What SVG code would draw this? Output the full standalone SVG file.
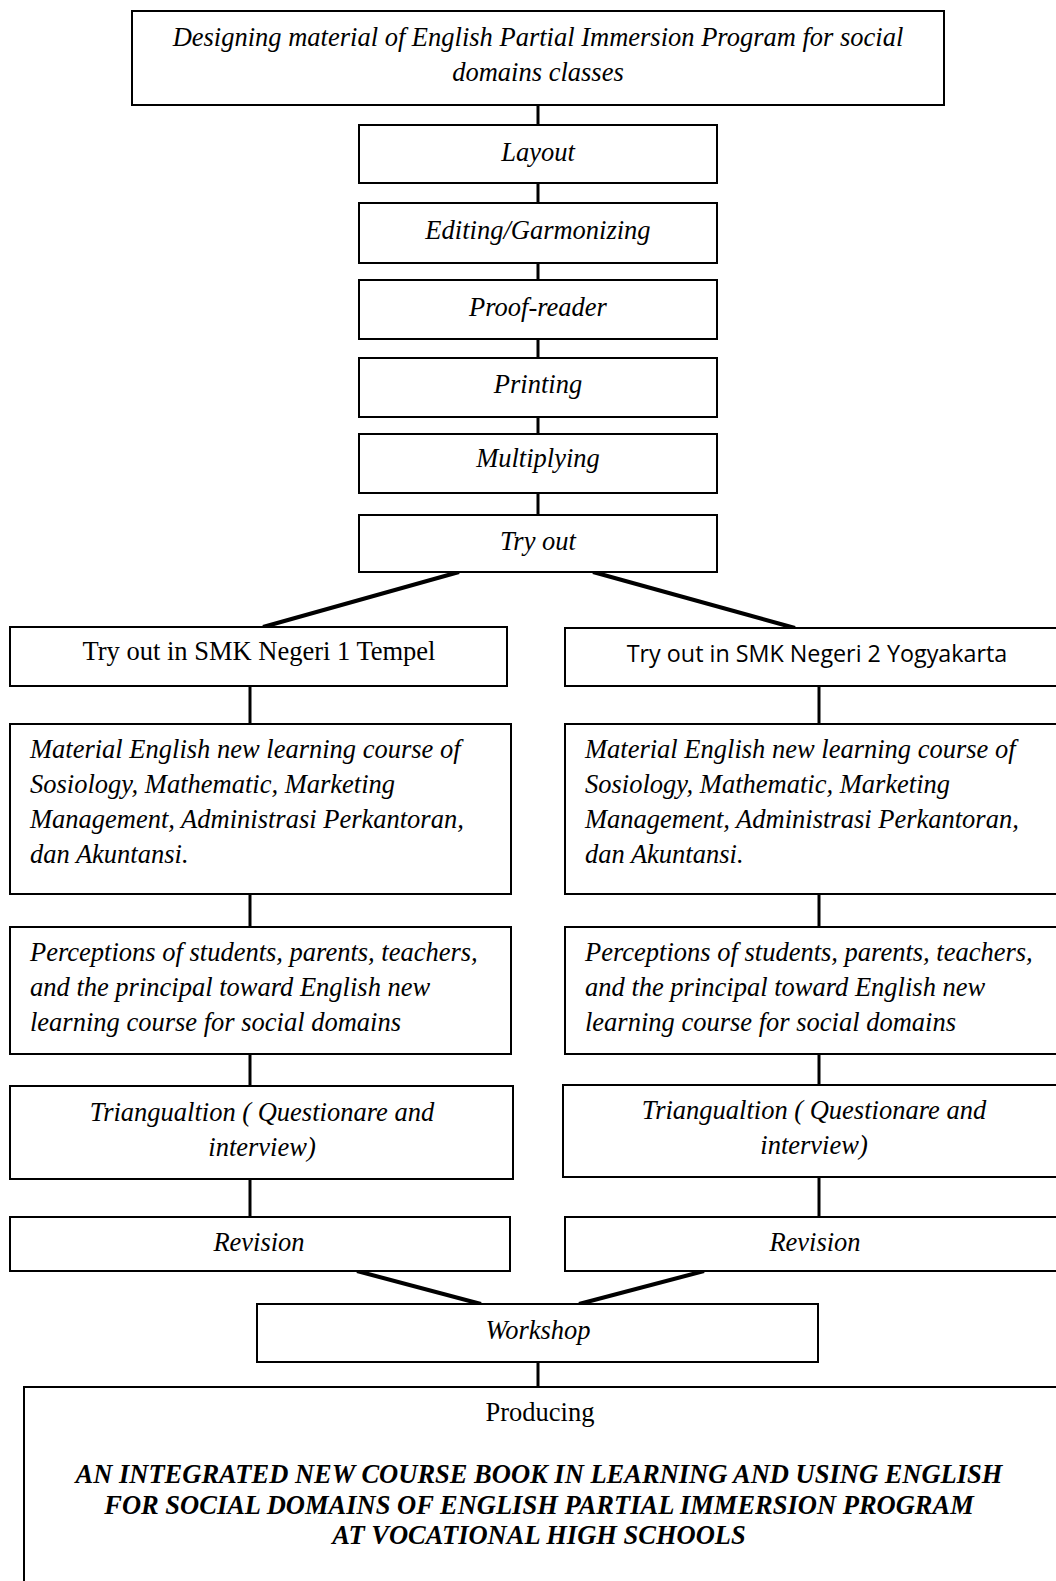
<svg xmlns="http://www.w3.org/2000/svg" width="1056" height="1581" viewBox="0 0 1056 1581">
<style>
.box{fill:#fff;stroke:#000;stroke-width:2}
.t{font-family:"Liberation Serif","Times New Roman",serif;font-size:26.5px;fill:#000}
.i{font-style:italic}
.c{text-anchor:middle}
.s{font-family:"Open Sans","Liberation Sans",sans-serif;font-size:23.3px;fill:#000}
.b{font-weight:bold;font-style:italic}
.v{stroke:#000;stroke-width:3;fill:none}
.d{stroke:#000;stroke-width:4;fill:none}
</style>
<rect width="1056" height="1581" fill="#fff"/>
<g id="connectors">
<line class="v" x1="538" y1="105" x2="538" y2="125"/>
<line class="v" x1="538" y1="183" x2="538" y2="203"/>
<line class="v" x1="538" y1="263" x2="538" y2="280"/>
<line class="v" x1="538" y1="339" x2="538" y2="358"/>
<line class="v" x1="538" y1="417" x2="538" y2="434"/>
<line class="v" x1="538" y1="493" x2="538" y2="515"/>
<line class="d" x1="459" y1="572" x2="263" y2="627"/>
<line class="d" x1="593" y1="572" x2="795" y2="628"/>
<line class="v" x1="250" y1="686" x2="250" y2="724"/>
<line class="v" x1="250" y1="894" x2="250" y2="927"/>
<line class="v" x1="250" y1="1054" x2="250" y2="1086"/>
<line class="v" x1="250" y1="1179" x2="250" y2="1217"/>
<line class="v" x1="819" y1="686" x2="819" y2="724"/>
<line class="v" x1="819" y1="894" x2="819" y2="927"/>
<line class="v" x1="819" y1="1054" x2="819" y2="1085"/>
<line class="v" x1="819" y1="1177" x2="819" y2="1217"/>
<line class="d" x1="357" y1="1271" x2="481" y2="1304"/>
<line class="d" x1="704" y1="1271" x2="579" y2="1304"/>
<line class="v" x1="538" y1="1362" x2="538" y2="1387"/>
</g>
<g id="n-design">
<rect class="box" x="132" y="11" width="812" height="94"/>
<text class="t i c" x="538" y="46">Designing material of English Partial Immersion Program for social</text>
<text class="t i c" x="538" y="81">domains classes</text>
</g>
<g id="n-layout">
<rect class="box" x="359" y="125" width="358" height="58"/>
<text class="t i c" x="538" y="161">Layout</text>
</g>
<g id="n-editing">
<rect class="box" x="359" y="203" width="358" height="60"/>
<text class="t i c" x="538" y="239">Editing/Garmonizing</text>
</g>
<g id="n-proof">
<rect class="box" x="359" y="280" width="358" height="59"/>
<text class="t i c" x="538" y="316">Proof-reader</text>
</g>
<g id="n-printing">
<rect class="box" x="359" y="358" width="358" height="59"/>
<text class="t i c" x="538" y="393">Printing</text>
</g>
<g id="n-multiplying">
<rect class="box" x="359" y="434" width="358" height="59"/>
<text class="t i c" x="538" y="467">Multiplying</text>
</g>
<g id="n-tryout">
<rect class="box" x="359" y="515" width="358" height="57"/>
<text class="t i c" x="538" y="550">Try out</text>
</g>
<g id="n-tempel">
<rect class="box" x="10" y="627" width="497" height="59"/>
<text class="t c" x="259" y="660">Try out in SMK Negeri 1 Tempel</text>
</g>
<g id="n-yogya">
<rect class="box" x="565" y="628" width="500" height="58"/>
<text class="s c" x="817" y="662">Try out in SMK Negeri 2 Yogyakarta</text>
</g>
<g id="n-material-left">
<rect class="box" x="10" y="724" width="501" height="170"/>
<text class="t i" x="30" y="758">Material English new learning course of</text>
<text class="t i" x="30" y="793">Sosiology, Mathematic, Marketing</text>
<text class="t i" x="30" y="828">Management, Administrasi Perkantoran,</text>
<text class="t i" x="30" y="863">dan Akuntansi.</text>
</g>
<g id="n-material-right">
<rect class="box" x="565" y="724" width="500" height="170"/>
<text class="t i" x="585" y="758">Material English new learning course of</text>
<text class="t i" x="585" y="793">Sosiology, Mathematic, Marketing</text>
<text class="t i" x="585" y="828">Management, Administrasi Perkantoran,</text>
<text class="t i" x="585" y="863">dan Akuntansi.</text>
</g>
<g id="n-perception-left">
<rect class="box" x="10" y="927" width="501" height="127"/>
<text class="t i" x="30" y="961">Perceptions of students, parents, teachers,</text>
<text class="t i" x="30" y="996">and the principal toward English new</text>
<text class="t i" x="30" y="1031">learning course for social domains</text>
</g>
<g id="n-perception-right">
<rect class="box" x="565" y="927" width="500" height="127"/>
<text class="t i" x="585" y="961">Perceptions of students, parents, teachers,</text>
<text class="t i" x="585" y="996">and the principal toward English new</text>
<text class="t i" x="585" y="1031">learning course for social domains</text>
</g>
<g id="n-triang-left">
<rect class="box" x="10" y="1086" width="503" height="93"/>
<text class="t i c" x="262" y="1121">Triangualtion ( Questionare and</text>
<text class="t i c" x="262" y="1156">interview)</text>
</g>
<g id="n-triang-right">
<rect class="box" x="563" y="1085" width="502" height="92"/>
<text class="t i c" x="814" y="1119">Triangualtion ( Questionare and</text>
<text class="t i c" x="814" y="1154">interview)</text>
</g>
<g id="n-revision-left">
<rect class="box" x="10" y="1217" width="500" height="54"/>
<text class="t i c" x="259" y="1251">Revision</text>
</g>
<g id="n-revision-right">
<rect class="box" x="565" y="1217" width="500" height="54"/>
<text class="t i c" x="815" y="1251">Revision</text>
</g>
<g id="n-workshop">
<rect class="box" x="257" y="1304" width="561" height="58"/>
<text class="t i c" x="538" y="1339">Workshop</text>
</g>
<g id="n-producing">
<rect class="box" x="24" y="1387" width="1050" height="210"/>
<text class="t c" x="540" y="1421">Producing</text>
<text class="t b c" x="539" y="1483">AN INTEGRATED NEW COURSE BOOK IN LEARNING AND USING ENGLISH</text>
<text class="t b c" x="539" y="1514">FOR SOCIAL DOMAINS OF ENGLISH PARTIAL IMMERSION PROGRAM</text>
<text class="t b c" x="539" y="1544">AT VOCATIONAL HIGH SCHOOLS</text>
</g>
</svg>
